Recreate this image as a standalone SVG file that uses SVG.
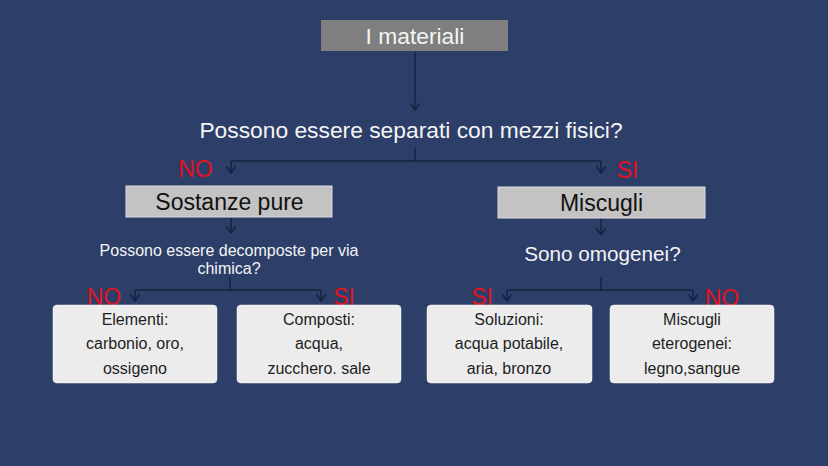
<svg xmlns="http://www.w3.org/2000/svg" width="828" height="466" viewBox="0 0 828 466">
<defs>
<marker id="arr" viewBox="0 0 10 12" refX="9" refY="6" markerWidth="10" markerHeight="12" markerUnits="userSpaceOnUse" orient="auto">
<path d="M2.5,1.5 L9,6 L2.5,10.5" fill="none" stroke="#18233f" stroke-width="1.6"/>
</marker>
<style>
text{font-family:"Liberation Sans",Arial,sans-serif;text-anchor:middle}
.q{fill:#f4f4f4}
.yn{fill:#e2121f;font-size:23px}
.top{fill:#7f7f7f}
.mid{fill:#c3c3c3;stroke:#dcdcdc;stroke-width:1}
.leaf{fill:#ececec;stroke:#ffffff;stroke-width:0.5}
.lt{fill:#1e1e1e;font-size:16px}
.c{fill:none;stroke:#18233f;stroke-width:1.5}
.ca{fill:none;stroke:#18233f;stroke-width:1.5;marker-end:url(#arr)}
</style>
</defs>
<rect width="828" height="466" fill="#2d3e69"/>

<g id="connectors">
<path class="ca" d="M415,52 V110"/>
<path class="c" d="M415,148 V161 H231"/>
<path class="ca" d="M231,161 V173"/>
<path class="c" d="M415,161 H601"/>
<path class="ca" d="M601,161 V173"/>
<path class="ca" d="M231,218 V233"/>
<path class="ca" d="M601,218 V235"/>
<path class="c" d="M230,277 V290 H135"/>
<path class="ca" d="M135,290 V301"/>
<path class="c" d="M230,290 H321"/>
<path class="ca" d="M321,290 V301"/>
<path class="c" d="M601,277 V290 H507"/>
<path class="ca" d="M507,290 V301"/>
<path class="c" d="M601,290 H693"/>
<path class="ca" d="M693,290 V301"/>
</g>

<g id="n-materiali">
<rect class="top" x="321" y="20" width="187" height="31"/>
<text x="415" y="44" font-size="22.8" fill="#f4f4f4">I materiali</text>
</g>

<g id="n-q1">
<text class="q" x="411" y="138" font-size="22.8">Possono essere separati con mezzi fisici?</text>
</g>

<g id="labels">
<text class="yn" x="195.5" y="177">NO</text>
<text class="yn" x="627.5" y="178">SI</text>
<text class="yn" x="104" y="305">NO</text>
<text class="yn" x="344" y="305">SI</text>
<text class="yn" x="482" y="305">SI</text>
<text class="yn" x="722" y="306">NO</text>
</g>

<g id="n-sostanze">
<rect class="mid" x="126" y="186" width="206" height="31"/>
<text x="229.5" y="210" font-size="23" fill="#111">Sostanze pure</text>
</g>

<g id="n-miscugli">
<rect class="mid" x="498" y="187" width="207" height="31"/>
<text x="601.5" y="211" font-size="23" fill="#111">Miscugli</text>
</g>

<g id="n-q2">
<text class="q" x="229" y="256" font-size="16">Possono essere decomposte per via</text>
<text class="q" x="229" y="274" font-size="16">chimica?</text>
</g>

<g id="n-q3">
<text class="q" x="602.5" y="261" font-size="20.7">Sono omogenei?</text>
</g>

<g id="n-elementi">
<rect class="leaf" x="53" y="305" width="164" height="78" rx="4"/>
<text class="lt" x="135" y="325">Elementi:</text>
<text class="lt" x="135" y="349">carbonio, oro,</text>
<text class="lt" x="135" y="374">ossigeno</text>
</g>

<g id="n-composti">
<rect class="leaf" x="237" y="305" width="164" height="78" rx="4"/>
<text class="lt" x="319" y="325">Composti:</text>
<text class="lt" x="319" y="349">acqua,</text>
<text class="lt" x="319" y="374">zucchero. sale</text>
</g>

<g id="n-soluzioni">
<rect class="leaf" x="427" y="305" width="165" height="78" rx="4"/>
<text class="lt" x="509" y="325">Soluzioni:</text>
<text class="lt" x="509" y="349">acqua potabile,</text>
<text class="lt" x="509" y="374">aria, bronzo</text>
</g>

<g id="n-eterogenei">
<rect class="leaf" x="610" y="305" width="164" height="78" rx="4"/>
<text class="lt" x="692" y="325">Miscugli</text>
<text class="lt" x="692" y="349">eterogenei:</text>
<text class="lt" x="692" y="374">legno,sangue</text>
</g>
</svg>
